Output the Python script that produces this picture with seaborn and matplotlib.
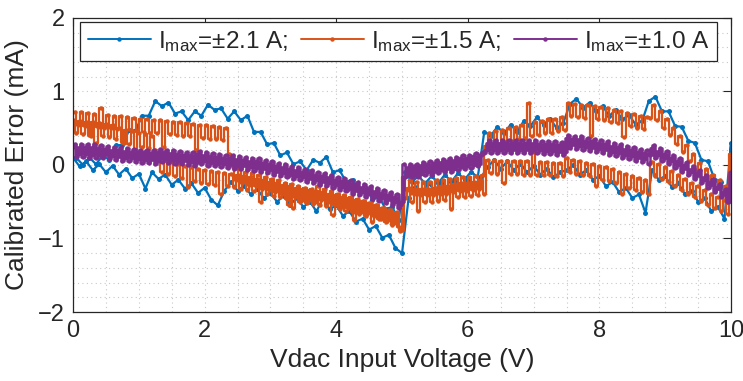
import numpy as np
import pandas as pd
import matplotlib
matplotlib.use("Agg")
import matplotlib.pyplot as plt
import seaborn as sns
from matplotlib.ticker import MultipleLocator
from matplotlib.lines import Line2D

# ---------------- data ----------------
series_names = ["2.1 A", "1.5 A", "1.0 A"]
legend_labels = [r"I$_{\mathrm{max}}$=±2.1 A;", r"I$_{\mathrm{max}}$=±1.5 A;", r"I$_{\mathrm{max}}$=±1.0 A"]
colors = ["#0072BD", "#D95319", "#7E2F8E"]

# DAC sweep voltages: up (0 -> 10 V) and down (10 -> 0 V)
vdac_up = np.round(np.arange(0, 101) * 0.1, 3)
vdac_down = np.round(0.05 + np.arange(0, 100) * 0.1, 3)
vdac_up_fine = np.round(np.arange(0, 201) * 0.05, 3)
vdac_down_fine = np.round(0.025 + np.arange(0, 200) * 0.05, 3)

blue_up = [0.10, -0.02, 0.05, -0.07, 0.01, -0.10, -0.01, -0.13, -0.05, -0.18,
           -0.12, -0.32, -0.10, -0.19, -0.13, -0.27, -0.20, -0.32, -0.25, -0.38,
           -0.31, -0.47, -0.55, -0.35, -0.23, -0.35, -0.28, -0.40, -0.33, -0.45,
           -0.38, -0.50, -0.42, -0.54, -0.45, -0.57, -0.50, -0.63, -0.45, -0.60,
           -0.55, -0.69, -0.63, -0.77, -0.73, -0.88, -0.83, -0.99, -0.95, -1.13,
           -1.20, -0.45, -0.30, -0.38, -0.25, -0.35, -0.23, -0.32, -0.21, -0.30,
           -0.19, -0.27, -0.17, -0.03, 0.07, -0.05, 0.05, -0.07, 0.02, -0.10,
           -0.01, -0.13, -0.05, -0.17, -0.10, -0.07, 0.00, -0.13, -0.07, -0.20,
           -0.15, -0.29, -0.23, -0.37, -0.31, -0.45, -0.40, -0.65, -0.07, -0.20,
           -0.15, -0.30, -0.25, -0.40, -0.35, -0.50, -0.45, -0.63, -0.57, -0.73,
           0.30]
blue_down = [0.10, 0.00, 0.10, 0.01, 0.13, 0.07, 0.27, 0.27, 0.47, 0.47,
             0.67, 0.67, 0.87, 0.80, 0.85, 0.70, 0.73, 0.61, 0.73, 0.67,
             0.82, 0.75, 0.77, 0.63, 0.73, 0.61, 0.67, 0.45, 0.45, 0.28,
             0.30, 0.13, 0.17, 0.01, 0.05, -0.07, 0.07, 0.03, 0.11, -0.10,
             -0.07, -0.23, -0.20, -0.35, -0.31, -0.47, -0.43, -0.60, -0.57, -0.75,
             -0.10, -0.23, -0.15, -0.25, -0.15, -0.25, -0.13, -0.23, -0.11, -0.20,
             -0.09, -0.17, 0.45, 0.40, 0.52, 0.43, 0.55, 0.45, 0.60, 0.53,
             0.65, 0.55, 0.63, 0.50, 0.57, 0.83, 0.90, 0.78, 0.85, 0.73,
             0.80, 0.67, 0.75, 0.62, 0.68, 0.55, 0.60, 0.87, 0.93, 0.73,
             0.73, 0.53, 0.52, 0.33, 0.30, 0.07, 0.05, -0.20, -0.23, -0.50]

orange_up = [0.61, 0.43, 0.60, 0.42, 0.59, 0.41, 0.58, 0.30, 0.57, 0.39,
             0.56, 0.38, 0.55, 0.35, 0.51, 0.31, 0.47, 0.28, 0.46, 0.15,
             0.44, 0.25, 0.42, 0.23, 0.40, 0.21, 0.09, -0.10, 0.07, -0.12,
             0.04, -0.15, 0.01, -0.18, -0.01, -0.30, -0.03, -0.22, -0.05, -0.24,
             -0.07, -0.26, -0.08, -0.27, -0.10, -0.40, -0.11, -0.29, -0.12, -0.30,
             -0.13, -0.32, -0.15, -0.34, -0.17, -0.36, -0.19, -0.50, -0.21, -0.40,
             -0.23, -0.42, -0.25, -0.44, -0.27, -0.46, -0.29, -0.58, -0.31, -0.50,
             -0.33, -0.52, -0.34, -0.53, -0.36, -0.55, -0.37, -0.56, -0.39, -0.68,
             -0.41, -0.60, -0.43, -0.62, -0.45, -0.64, -0.47, -0.66, -0.49, -0.69,
             -0.52, -0.78, -0.55, -0.74, -0.58, -0.77, -0.61, -0.81, -0.65, -0.85,
             -0.88, -0.45, -0.31, -0.50, -0.33, -0.62, -0.33, -0.51, -0.32, -0.50,
             -0.31, -0.49, -0.29, -0.47, -0.28, -0.60, -0.26, -0.44, -0.25, -0.43,
             -0.24, -0.42, -0.23, -0.41, -0.21, -0.39, 0.07, -0.11, 0.07, -0.12,
             0.06, -0.25, 0.06, -0.12, 0.06, -0.12, 0.05, -0.13, 0.05, -0.13,
             0.18, -0.14, 0.04, -0.14, 0.04, -0.14, 0.03, -0.15, 0.03, -0.15,
             0.09, -0.10, 0.07, -0.12, 0.05, -0.14, 0.03, -0.15, 0.01, -0.28,
             -0.01, -0.20, -0.03, -0.22, -0.06, -0.25, -0.09, -0.40, -0.12, -0.31,
             -0.15, -0.34, -0.18, -0.37, -0.21, -0.40, 0.04, -0.15, 0.01, -0.19,
             -0.03, -0.23, -0.08, -0.28, -0.13, -0.34, -0.19, -0.39, -0.24, -0.44,
             -0.29, -0.49, -0.34, -0.54, -0.39, -0.58, -0.43, -0.62, -0.47, -0.66,
             0.15]
orange_down = [0.72, 0.54, 0.72, 0.53, 0.71, 0.40, 0.70, 0.52, 0.78, 0.51,
               0.68, 0.50, 0.67, 0.49, 0.66, 0.30, 0.65, 0.47, 0.64, 0.46,
               0.63, 0.45, 0.62, 0.44, 0.61, 0.43, 0.61, 0.25, 0.60, 0.42,
               0.59, 0.41, 0.58, 0.40, 0.57, 0.39, 0.56, 0.20, 0.55, 0.37,
               0.54, 0.36, 0.53, 0.35, 0.52, 0.34, 0.51, 0.15, -0.03, -0.21,
               -0.06, -0.24, -0.09, -0.27, -0.11, -0.29, -0.14, -0.32, -0.16, -0.34,
               -0.19, -0.37, -0.21, -0.39, -0.24, -0.55, -0.26, -0.44, -0.29, -0.47,
               -0.31, -0.49, -0.33, -0.51, -0.29, -0.47, -0.33, -0.51, -0.36, -0.54,
               -0.39, -0.57, -0.41, -0.59, -0.44, -0.75, -0.46, -0.64, -0.49, -0.67,
               -0.52, -0.70, -0.55, -0.73, -0.58, -0.76, -0.61, -0.79, -0.64, -0.90,
               -0.16, -0.34, -0.21, -0.39, -0.23, -0.41, -0.23, -0.41, -0.23, -0.41,
               -0.21, -0.39, -0.21, -0.39, -0.19, -0.37, -0.18, -0.36, -0.17, -0.35,
               -0.16, -0.34, -0.15, -0.33, -0.14, 0.26, 0.44, 0.27, 0.46, 0.29,
               0.48, 0.31, 0.50, 0.33, 0.52, 0.35, 0.54, 0.37, 0.85, 0.39,
               0.58, 0.41, 0.60, 0.43, 0.62, 0.44, 0.63, 0.46, 0.65, 0.47,
               0.84, 0.66, 0.83, 0.65, 0.82, 0.64, 0.81, 0.40, 0.80, 0.62,
               0.79, 0.61, 0.77, 0.59, 0.75, 0.57, 0.73, 0.38, 0.71, 0.53,
               0.69, 0.51, 0.67, 0.49, 0.65, 0.64, 0.81, 0.61, 0.73, 0.51,
               0.63, 0.41, 0.51, 0.29, 0.39, 0.17, 0.27, 0.05, 0.15, -0.07,
               0.03, -0.19, -0.06, -0.26, -0.14, -0.33, -0.21, -0.40, -0.28, -0.49]

purple_up = [0.25, 0.11, 0.25, 0.11, 0.24, 0.10, 0.24, 0.10, 0.23, 0.09,
             0.22, 0.08, 0.21, 0.07, 0.20, 0.06, 0.19, 0.05, 0.18, 0.04,
             0.17, 0.03, 0.17, 0.03, 0.16, 0.02, 0.18, 0.04, 0.17, 0.03,
             0.16, 0.02, 0.15, 0.01, 0.14, 0.00, 0.13, -0.01, 0.15, 0.01,
             0.13, -0.01, 0.12, -0.02, 0.11, -0.03, 0.10, -0.04, 0.09, -0.05,
             0.08, -0.06, 0.07, -0.07, 0.06, -0.08, 0.05, -0.09, 0.03, -0.11,
             0.01, -0.13, -0.01, -0.15, -0.03, -0.17, -0.05, -0.19, -0.07, -0.21,
             -0.09, -0.23, -0.11, -0.25, -0.13, -0.27, -0.15, -0.29, -0.17, -0.31,
             -0.20, -0.34, -0.22, -0.36, -0.25, -0.39, -0.27, -0.41, -0.30, -0.44,
             -0.32, -0.46, -0.35, -0.49, -0.38, -0.52, -0.41, -0.55, -0.44, -0.58,
             -0.50, -0.17, -0.03, -0.17, -0.02, -0.16, 0.00, -0.14, 0.01, -0.13,
             0.03, -0.11, 0.04, -0.10, 0.05, -0.09, 0.07, -0.07, 0.09, -0.05,
             0.10, -0.04, 0.12, -0.02, 0.13, 0.16, 0.30, 0.16, 0.30, 0.16,
             0.30, 0.16, 0.30, 0.16, 0.30, 0.16, 0.30, 0.16, 0.30, 0.16,
             0.30, 0.16, 0.29, 0.15, 0.29, 0.15, 0.28, 0.14, 0.27, 0.13,
             0.37, 0.23, 0.36, 0.22, 0.35, 0.21, 0.33, 0.19, 0.32, 0.18,
             0.30, 0.16, 0.28, 0.14, 0.26, 0.12, 0.24, 0.10, 0.22, 0.08,
             0.20, 0.06, 0.18, 0.04, 0.16, 0.02, 0.23, 0.09, 0.19, 0.05,
             0.15, 0.01, 0.10, -0.04, 0.05, -0.09, 0.00, -0.14, -0.05, -0.19,
             -0.11, -0.25, -0.17, -0.31, -0.23, -0.37, -0.30, -0.44, -0.37, -0.51,
             -0.10]
purple_down = [0.29, 0.15, 0.29, 0.15, 0.28, 0.14, 0.28, 0.14, 0.27, 0.13,
               0.26, 0.12, 0.25, 0.11, 0.24, 0.10, 0.23, 0.09, 0.22, 0.08,
               0.21, 0.07, 0.21, 0.07, 0.20, 0.06, 0.22, 0.08, 0.21, 0.07,
               0.20, 0.06, 0.19, 0.05, 0.18, 0.04, 0.17, 0.03, 0.19, 0.05,
               0.17, 0.03, 0.16, 0.02, 0.15, 0.01, 0.14, 0.00, 0.13, -0.01,
               0.12, -0.02, 0.11, -0.03, 0.10, -0.04, 0.09, -0.05, 0.07, -0.07,
               0.05, -0.09, 0.03, -0.11, 0.01, -0.13, -0.01, -0.15, -0.03, -0.17,
               -0.05, -0.19, -0.07, -0.21, -0.09, -0.23, -0.11, -0.25, -0.13, -0.27,
               -0.16, -0.30, -0.18, -0.32, -0.21, -0.35, -0.23, -0.37, -0.26, -0.40,
               -0.28, -0.42, -0.31, -0.45, -0.34, -0.48, -0.37, -0.51, -0.40, -0.54,
               0.01, -0.13, 0.01, -0.13, 0.02, -0.12, 0.04, -0.10, 0.05, -0.09,
               0.07, -0.07, 0.08, -0.06, 0.09, -0.05, 0.11, -0.03, 0.13, -0.01,
               0.14, 0.00, 0.16, 0.02, 0.17, 0.20, 0.34, 0.20, 0.34, 0.20,
               0.34, 0.20, 0.34, 0.20, 0.34, 0.20, 0.34, 0.20, 0.34, 0.20,
               0.34, 0.20, 0.33, 0.19, 0.33, 0.19, 0.32, 0.18, 0.31, 0.17,
               0.41, 0.27, 0.40, 0.26, 0.39, 0.25, 0.37, 0.23, 0.36, 0.22,
               0.34, 0.20, 0.32, 0.18, 0.30, 0.16, 0.28, 0.14, 0.26, 0.12,
               0.24, 0.10, 0.22, 0.08, 0.20, 0.13, 0.27, 0.13, 0.23, 0.09,
               0.19, 0.05, 0.14, 0.00, 0.09, -0.05, 0.04, -0.10, -0.01, -0.15,
               -0.07, -0.21, -0.13, -0.27, -0.19, -0.33, -0.26, -0.40, -0.33, -0.47]

x_ticks = [0, 2, 4, 6, 8, 10]
y_ticks = [-2, -1, 0, 1, 2]
x_label = "Vdac Input Voltage (V)"
y_label = "Calibrated Error (mA)"

# ---------------- build table ----------------
grids = {"2.1 A": (vdac_up, vdac_down), "1.5 A": (vdac_up_fine, vdac_down_fine),
         "1.0 A": (vdac_up_fine, vdac_down_fine)}
ups = [blue_up, orange_up, purple_up]
downs = [blue_down, orange_down, purple_down]
frames = []
for name, up, down in zip(series_names, ups, downs):
    gu, gd = grids[name]
    nu, nd = min(len(gu), len(up)), min(len(gd), len(down))
    xs = np.concatenate([gu[:nu], gd[:nd][::-1]])
    ys = np.concatenate([np.array(up[:nu]), np.array(down[:nd])[::-1]])
    frames.append(pd.DataFrame({"vdac": xs, "err": ys, "series": name}))
df = pd.concat(frames, ignore_index=True)

# ---------------- style ----------------
sns.set_theme(style="white")
fam = "Liberation Sans"
plt.rcParams["font.family"] = [fam, "DejaVu Sans"]
plt.rcParams["mathtext.fontset"] = "custom"
plt.rcParams["mathtext.rm"] = fam
plt.rcParams["mathtext.it"] = fam

fig = plt.figure(figsize=(7.43, 3.81), dpi=100)
ax = fig.add_axes([0.0983, 0.1811, 0.8856, 0.7717])

styles = {"2.1 A": dict(linewidth=1.6, markersize=3.6),
          "1.5 A": dict(linewidth=1.6, markersize=3.2, drawstyle="steps-mid"),
          "1.0 A": dict(linewidth=1.8, markersize=3.2, drawstyle="steps-mid")}
for name, col in zip(series_names, colors):
    sns.lineplot(data=df[df["series"] == name], x="vdac", y="err", color=col,
                 sort=False, estimator=None, marker="o", markeredgewidth=0,
                 legend=False, ax=ax, **styles[name])

ax.set_xlim(0, 10)
ax.set_ylim(-2, 2)
ax.set_xticks(x_ticks)
ax.set_yticks(y_ticks)
ax.xaxis.set_minor_locator(MultipleLocator(0.5))
ax.yaxis.set_minor_locator(MultipleLocator(0.2))
ax.grid(True, which="both", linestyle=(0, (1, 3)), color="#c8c8c8", linewidth=0.8)
ax.set_axisbelow(True)
ax.tick_params(which="major", direction="in", top=True, right=True, length=6,
               width=0.8, color="#262626", labelsize=17, labelcolor="#262626", pad=6)
ax.tick_params(which="minor", length=0)
for s in ax.spines.values():
    s.set_color("#262626")
    s.set_linewidth(0.9)
ax.set_xlabel(x_label, fontsize=19, color="#262626", labelpad=4)
ax.set_ylabel(y_label, fontsize=19, color="#262626", labelpad=6)

handles = [Line2D([], [], color=c, linewidth=1.4, marker="o",
                  markersize=3.2, markeredgewidth=0) for c in colors]
leg = ax.legend(handles, legend_labels, loc="upper center", bbox_to_anchor=(0.495, 0.988),
                ncol=3, frameon=True, fancybox=False, framealpha=1, edgecolor="#262626",
                fontsize=17.5, handlelength=2.6, handletextpad=0.3, columnspacing=0.5,
                borderpad=0.3, borderaxespad=0, numpoints=1)
leg.get_frame().set_linewidth(0.9)

fig.savefig("out.png", dpi=100)
